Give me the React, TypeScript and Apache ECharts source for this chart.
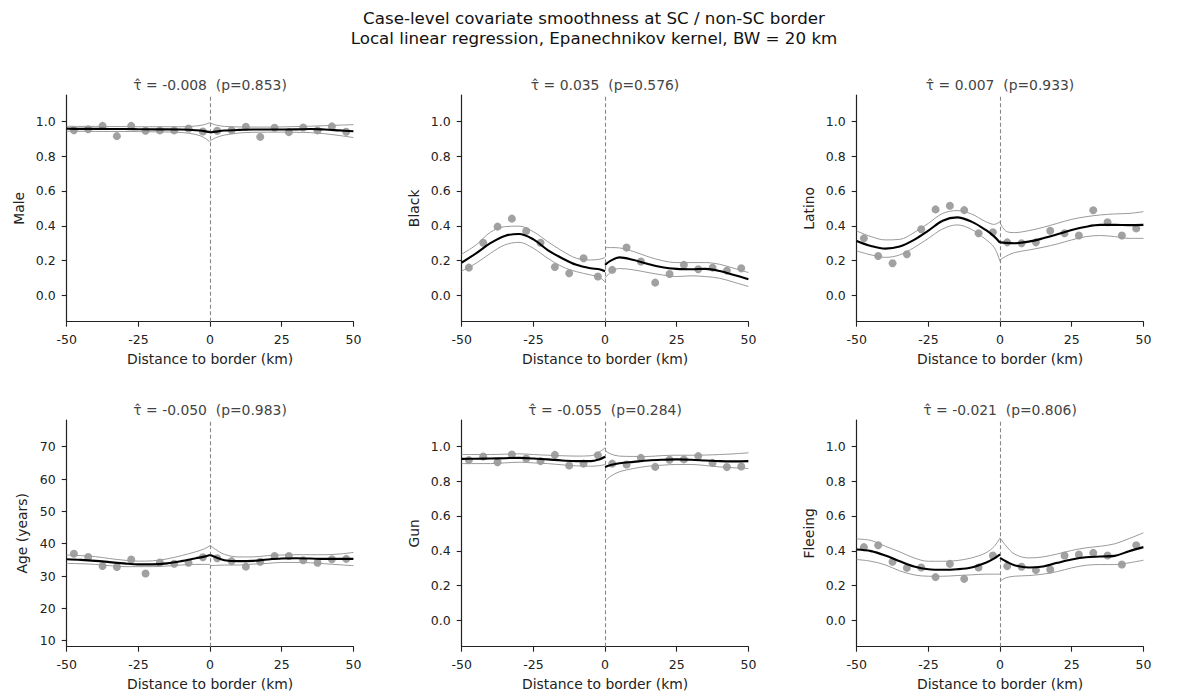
import React, { useEffect, useRef } from "react";
import * as echarts from "echarts";

// ---------- data ----------
const BIN_CENTERS = [-47.5, -42.5, -37.5, -32.5, -27.5, -22.5, -17.5, -12.5, -7.5, -2.5, 2.5, 7.5, 12.5, 17.5, 22.5, 27.5, 32.5, 37.5, 42.5, 47.5];
const X_LEFT = [-50, -45, -40, -35, -30, -25, -20, -15, -10, -5, -2, 0];
const X_RIGHT = [0, 2, 5, 10, 15, 20, 25, 30, 35, 40, 45, 50];
const X_TICKS = [-50, -25, 0, 25, 50];
const SHARE_TICKS = [0, 0.2, 0.4, 0.6, 0.8, 1.0];
const AGE_TICKS = [10, 20, 30, 40, 50, 60, 70];

const LABELS = ["Male", "Black", "Latino", "Age (years)", "Gun", "Fleeing"];
const TAU = ["-0.008", "0.035", "0.007", "-0.050", "-0.055", "-0.021"];
const PVAL = ["0.853", "0.576", "0.933", "0.983", "0.284", "0.806"];

// Male
const MALE_DOTS = [0.948, 0.954, 0.973, 0.914, 0.973, 0.945, 0.947, 0.947, 0.958, 0.941, 0.945, 0.948, 0.968, 0.91, 0.962, 0.937, 0.964, 0.947, 0.97, 0.939];
const MALE_MEAN_L = [0.957, 0.956, 0.956, 0.955, 0.955, 0.954, 0.953, 0.953, 0.952, 0.948, 0.943, 0.937];
const MALE_UP_L = [0.971, 0.97, 0.97, 0.969, 0.969, 0.968, 0.968, 0.968, 0.968, 0.972, 0.98, 0.992];
const MALE_LO_L = [0.942, 0.942, 0.941, 0.941, 0.941, 0.94, 0.939, 0.938, 0.935, 0.924, 0.905, 0.88];
const MALE_MEAN_R = [0.935, 0.94, 0.946, 0.95, 0.952, 0.952, 0.952, 0.953, 0.955, 0.952, 0.947, 0.942];
const MALE_UP_R = [0.99, 0.978, 0.97, 0.967, 0.966, 0.966, 0.967, 0.969, 0.971, 0.974, 0.977, 0.98];
const MALE_LO_R = [0.887, 0.905, 0.92, 0.932, 0.936, 0.937, 0.937, 0.936, 0.934, 0.928, 0.918, 0.906];

// Black
const BLACK_DOTS = [0.16, 0.303, 0.395, 0.441, 0.37, 0.303, 0.164, 0.128, 0.214, 0.109, 0.147, 0.275, 0.195, 0.074, 0.124, 0.176, 0.151, 0.16, 0.143, 0.156];
const BLACK_MEAN_L = [0.189, 0.242, 0.3, 0.342, 0.353, 0.322, 0.261, 0.214, 0.176, 0.156, 0.151, 0.139];
const BLACK_UP_L = [0.237, 0.29, 0.363, 0.395, 0.398, 0.366, 0.309, 0.256, 0.214, 0.204, 0.208, 0.218];
const BLACK_LO_L = [0.141, 0.185, 0.242, 0.29, 0.305, 0.271, 0.214, 0.166, 0.137, 0.118, 0.105, 0.078];
const BLACK_MEAN_R = [0.176, 0.2, 0.219, 0.204, 0.181, 0.162, 0.153, 0.151, 0.153, 0.141, 0.118, 0.094];
const BLACK_UP_R = [0.275, 0.275, 0.273, 0.252, 0.223, 0.2, 0.189, 0.189, 0.189, 0.179, 0.156, 0.132];
const BLACK_LO_R = [0.099, 0.135, 0.155, 0.147, 0.132, 0.118, 0.109, 0.113, 0.109, 0.099, 0.076, 0.052];

// Latino
const LATINO_DOTS = [0.328, 0.227, 0.185, 0.237, 0.38, 0.494, 0.515, 0.49, 0.357, 0.363, 0.305, 0.3, 0.305, 0.372, 0.357, 0.344, 0.489, 0.42, 0.344, 0.385];
const LATINO_MEAN_L = [0.313, 0.284, 0.269, 0.281, 0.319, 0.372, 0.429, 0.448, 0.424, 0.376, 0.338, 0.303];
const LATINO_UP_L = [0.37, 0.338, 0.319, 0.322, 0.361, 0.414, 0.471, 0.487, 0.468, 0.424, 0.408, 0.424];
const LATINO_LO_L = [0.256, 0.233, 0.219, 0.233, 0.275, 0.328, 0.382, 0.405, 0.38, 0.322, 0.275, 0.195];
const LATINO_MEAN_R = [0.305, 0.302, 0.3, 0.309, 0.328, 0.351, 0.376, 0.395, 0.405, 0.405, 0.404, 0.405];
const LATINO_UP_R = [0.418, 0.37, 0.361, 0.372, 0.391, 0.414, 0.437, 0.452, 0.462, 0.468, 0.471, 0.481];
const LATINO_LO_R = [0.204, 0.225, 0.246, 0.261, 0.277, 0.296, 0.319, 0.338, 0.344, 0.338, 0.328, 0.328];

// Age
const AGE_DOTS = [36.9, 35.9, 33.1, 32.8, 35.1, 30.8, 34.2, 33.8, 34.1, 35.8, 35.5, 34.6, 32.9, 34.4, 36.2, 36.2, 34.9, 34.1, 35.2, 35.3];
const AGE_MEAN_L = [35.2, 35.0, 34.7, 34.3, 33.9, 33.6, 33.6, 33.9, 34.6, 35.5, 36.0, 36.5];
const AGE_UP_L = [36.5, 36.3, 36.0, 35.4, 34.9, 34.6, 34.7, 35.3, 36.3, 37.5, 38.4, 39.4];
const AGE_LO_L = [33.9, 33.8, 33.6, 33.2, 32.9, 32.9, 32.9, 33.1, 33.4, 33.6, 33.6, 33.6];
const AGE_MEAN_R = [36.5, 35.8, 34.9, 34.6, 34.7, 35.1, 35.4, 35.5, 35.4, 35.3, 35.3, 35.3];
const AGE_UP_R = [39.4, 38.2, 36.7, 35.9, 35.9, 36.3, 36.5, 36.6, 36.6, 36.6, 36.8, 37.3];
const AGE_LO_R = [33.2, 33.3, 33.4, 33.4, 33.7, 33.9, 34.2, 34.2, 34.1, 33.8, 33.5, 33.2];

// Gun
const GUN_DOTS = [0.92, 0.941, 0.908, 0.952, 0.929, 0.914, 0.95, 0.889, 0.9, 0.948, 0.9, 0.895, 0.933, 0.881, 0.922, 0.924, 0.943, 0.904, 0.88, 0.883];
const GUN_MEAN_L = [0.927, 0.928, 0.929, 0.931, 0.933, 0.929, 0.924, 0.918, 0.914, 0.914, 0.924, 0.939];
const GUN_UP_L = [0.952, 0.952, 0.952, 0.954, 0.956, 0.952, 0.948, 0.945, 0.943, 0.945, 0.967, 0.99];
const GUN_LO_L = [0.9, 0.9, 0.9, 0.904, 0.908, 0.904, 0.9, 0.893, 0.887, 0.885, 0.888, 0.895];
const GUN_MEAN_R = [0.881, 0.892, 0.902, 0.91, 0.918, 0.922, 0.924, 0.922, 0.918, 0.914, 0.913, 0.914];
const GUN_UP_R = [0.975, 0.955, 0.943, 0.941, 0.941, 0.946, 0.948, 0.948, 0.949, 0.952, 0.956, 0.962];
const GUN_LO_R = [0.8, 0.828, 0.853, 0.872, 0.885, 0.891, 0.895, 0.895, 0.889, 0.881, 0.876, 0.872];

// Fleeing
const FLEE_DOTS = [0.421, 0.432, 0.337, 0.302, 0.304, 0.249, 0.325, 0.239, 0.304, 0.373, 0.312, 0.308, 0.289, 0.293, 0.373, 0.379, 0.388, 0.373, 0.321, 0.432];
const FLEE_MEAN_L = [0.407, 0.398, 0.373, 0.34, 0.31, 0.294, 0.291, 0.294, 0.304, 0.331, 0.356, 0.379];
const FLEE_UP_L = [0.468, 0.459, 0.426, 0.394, 0.359, 0.34, 0.34, 0.344, 0.359, 0.388, 0.426, 0.474];
const FLEE_LO_L = [0.35, 0.34, 0.319, 0.285, 0.262, 0.254, 0.254, 0.258, 0.262, 0.266, 0.266, 0.266];
const FLEE_MEAN_R = [0.359, 0.34, 0.317, 0.304, 0.31, 0.331, 0.35, 0.363, 0.367, 0.371, 0.398, 0.421];
const FLEE_UP_R = [0.474, 0.43, 0.382, 0.359, 0.365, 0.382, 0.402, 0.417, 0.426, 0.44, 0.47, 0.503];
const FLEE_LO_R = [0.226, 0.245, 0.254, 0.258, 0.266, 0.281, 0.302, 0.317, 0.321, 0.321, 0.331, 0.346];

const SHARE_RANGE = [-0.15, 1.15];
const AGE_RANGE = [8.14, 78.26];

const PANELS = [
  { dots: MALE_DOTS, mL: MALE_MEAN_L, uL: MALE_UP_L, lL: MALE_LO_L, mR: MALE_MEAN_R, uR: MALE_UP_R, lR: MALE_LO_R, range: SHARE_RANGE, ticks: SHARE_TICKS, dec: 1 },
  { dots: BLACK_DOTS, mL: BLACK_MEAN_L, uL: BLACK_UP_L, lL: BLACK_LO_L, mR: BLACK_MEAN_R, uR: BLACK_UP_R, lR: BLACK_LO_R, range: SHARE_RANGE, ticks: SHARE_TICKS, dec: 1 },
  { dots: LATINO_DOTS, mL: LATINO_MEAN_L, uL: LATINO_UP_L, lL: LATINO_LO_L, mR: LATINO_MEAN_R, uR: LATINO_UP_R, lR: LATINO_LO_R, range: SHARE_RANGE, ticks: SHARE_TICKS, dec: 1 },
  { dots: AGE_DOTS, mL: AGE_MEAN_L, uL: AGE_UP_L, lL: AGE_LO_L, mR: AGE_MEAN_R, uR: AGE_UP_R, lR: AGE_LO_R, range: AGE_RANGE, ticks: AGE_TICKS, dec: 0 },
  { dots: GUN_DOTS, mL: GUN_MEAN_L, uL: GUN_UP_L, lL: GUN_LO_L, mR: GUN_MEAN_R, uR: GUN_UP_R, lR: GUN_LO_R, range: SHARE_RANGE, ticks: SHARE_TICKS, dec: 1 },
  { dots: FLEE_DOTS, mL: FLEE_MEAN_L, uL: FLEE_UP_L, lL: FLEE_LO_L, mR: FLEE_MEAN_R, uR: FLEE_UP_R, lR: FLEE_LO_R, range: SHARE_RANGE, ticks: SHARE_TICKS, dec: 1 },
];

// ---------- layout ----------
const COL_LEFT = [66.7, 461.7, 856.7];
const ROW_TOP = [95, 420];
const GRID_W = 286.7;
const GRID_H = 226.7;
const FONT = "DejaVu Sans";
const INK = "#222";

export default function App() {
  const ref = useRef<HTMLDivElement>(null);

  useEffect(() => {
    document.body.style.margin = "0";
    if (!ref.current) return;
    const chart = echarts.init(ref.current, null, { renderer: "svg" });

    const grids: any[] = [];
    const xAxes: any[] = [];
    const yAxes: any[] = [];
    const series: any[] = [];
    const graphics: any[] = [
      { type: "text", x: 594, y: 18, style: { text: "Case-level covariate smoothness at SC / non-SC border", font: `16.7px ${FONT}`, fill: "#111", textAlign: "center", textVerticalAlign: "middle" } },
      { type: "text", x: 594, y: 38, style: { text: "Local linear regression, Epanechnikov kernel, BW = 20 km", font: `16.7px ${FONT}`, fill: "#111", textAlign: "center", textVerticalAlign: "middle" } },
    ];

    PANELS.forEach((p, i) => {
      const col = i % 3;
      const row = Math.floor(i / 3);
      const left = COL_LEFT[col];
      const top = ROW_TOP[row];
      grids.push({ left, top, width: GRID_W, height: GRID_H, containLabel: false });
      xAxes.push({
        type: "value", gridIndex: i, min: -50, max: 50, interval: 25,
        axisLine: { show: true, onZero: false, lineStyle: { color: INK, width: 1.2 } },
        axisTick: { show: true, inside: false, length: 5, lineStyle: { color: INK, width: 1.1 }, customValues: X_TICKS },
        axisLabel: { fontSize: 12.5, fontFamily: FONT, color: INK, margin: 11, customValues: X_TICKS },
        splitLine: { show: false },
        name: "Distance to border (km)", nameLocation: "middle", nameGap: 30,
        nameTextStyle: { fontSize: 13.9, fontFamily: FONT, color: INK },
      });
      yAxes.push({
        type: "value", gridIndex: i, min: p.range[0], max: p.range[1],
        axisLine: { show: true, onZero: false, lineStyle: { color: INK, width: 1.2 } },
        axisTick: { show: true, inside: false, length: 5, lineStyle: { color: INK, width: 1.1 }, customValues: p.ticks },
        axisLabel: { fontSize: 12.5, fontFamily: FONT, color: INK, margin: 11, customValues: p.ticks, formatter: (v: number) => v.toFixed(p.dec) },
        splitLine: { show: false },
        name: LABELS[i], nameLocation: "middle", nameGap: p.dec === 0 ? 38 : 41,
        nameTextStyle: { fontSize: 13.9, fontFamily: FONT, color: INK },
      });
      graphics.push({
        type: "text", x: left + GRID_W / 2, y: top - 10,
        style: { text: `τ̂ = ${TAU[i]}  (p=${PVAL[i]})`, font: `13.9px ${FONT}`, fill: "#444", textAlign: "center", textVerticalAlign: "middle" },
      });

      series.push({
        type: "scatter", xAxisIndex: i, yAxisIndex: i, z: 3,
        symbolSize: 8, itemStyle: { color: "#8a8a8a" },
        data: BIN_CENTERS.map((x, j) => [x, p.dots[j]]),
        markLine: {
          silent: true, symbol: ["none", "none"], label: { show: false },
          lineStyle: { color: "#888", type: [4, 2.5], width: 1.1 },
          data: [{ xAxis: 0 }],
        },
      });
      const line = (xs: number[], ys: number[], mean: boolean) => ({
        type: "line", xAxisIndex: i, yAxisIndex: i, showSymbol: false, smooth: 0.35,
        z: mean ? 5 : 4,
        lineStyle: mean ? { color: "#000", width: 2.1 } : { color: "#9a9a9a", width: 1 },
        data: xs.map((x, j) => [x, ys[j]]),
      });
      series.push(line(X_LEFT, p.uL, false));
      series.push(line(X_LEFT, p.lL, false));
      series.push(line(X_RIGHT, p.uR, false));
      series.push(line(X_RIGHT, p.lR, false));
      series.push(line(X_LEFT, p.mL, true));
      series.push(line(X_RIGHT, p.mR, true));
    });

    chart.setOption({
      animation: false,
      backgroundColor: "#fff",
      textStyle: { fontFamily: FONT },
      grid: grids,
      xAxis: xAxes,
      yAxis: yAxes,
      series,
      graphic: graphics,
    });
    return () => chart.dispose();
  }, []);

  return <div ref={ref} style={{ width: 1188, height: 695 }} />;
}
